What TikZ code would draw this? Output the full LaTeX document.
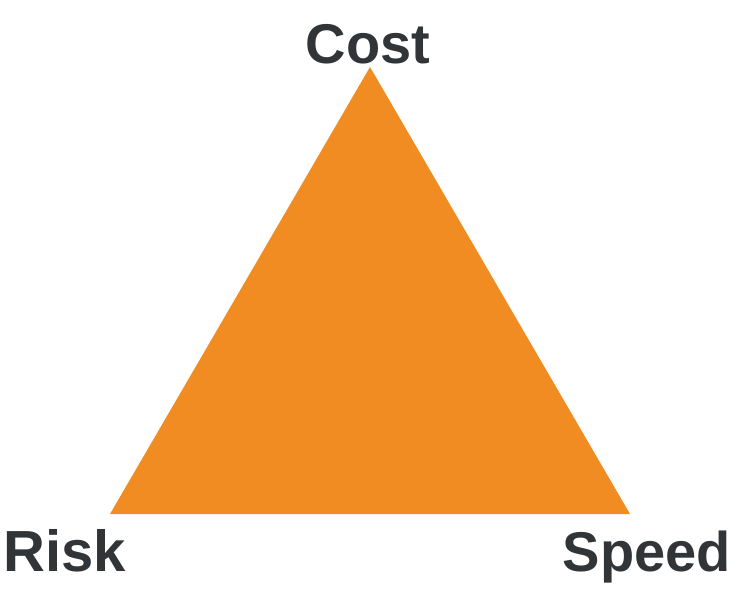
\documentclass[tikz,border=0pt]{standalone}
\usepackage{fontspec}
\setmainfont{Liberation Sans}
\definecolor{triorange}{HTML}{F18C22}
\definecolor{labelgray}{HTML}{323538}

\begin{document}
\begin{tikzpicture}[x=1pt,y=-1pt,
    corner/.style={inner sep=0pt,text=labelgray,font=\fontsize{56}{60}\selectfont\bfseries}]
    \useasboundingbox (0,0) rectangle (738,590);

    % triangle corners
    \coordinate (top) at (370,67);
    \coordinate (left) at (110,514);
    \coordinate (right) at (630,514);
    \fill[triorange] (top) -- (left) -- (right) -- cycle;

    % labels
    \node[corner,anchor=base] (cost) at (368,63) {Cost};
    \node[corner,anchor=base west,font=\fontsize{58}{60}\selectfont\bfseries] (risk) at (3,571) {Risk};
    \node[corner,anchor=base east] (speed) at (731,571) {Speed};
  \end{tikzpicture}
\end{document}
